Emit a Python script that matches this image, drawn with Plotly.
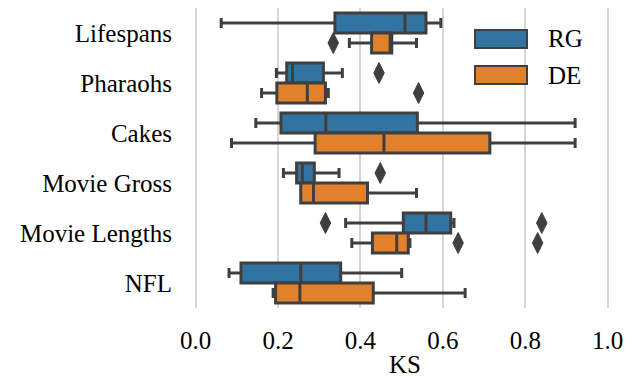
import plotly.graph_objects as go

categories = ["Lifespans", "Pharaohs", "Cakes", "Movie Gross", "Movie Lengths", "NFL"]
series = ["RG", "DE"]

rg_low = [0.062, 0.196, 0.146, 0.213, 0.364, 0.081]
rg_q1 = [0.338, 0.221, 0.207, 0.245, 0.504, 0.110]
rg_med = [0.508, 0.235, 0.316, 0.259, 0.559, 0.255]
rg_q3 = [0.559, 0.310, 0.538, 0.288, 0.619, 0.352]
rg_high = [0.595, 0.356, 0.921, 0.348, 0.627, 0.500]

de_low = [0.373, 0.160, 0.087, 0.257, 0.379, 0.188]
de_q1 = [0.427, 0.197, 0.290, 0.255, 0.429, 0.194]
de_med = [0.472, 0.271, 0.457, 0.286, 0.488, 0.253]
de_q3 = [0.476, 0.315, 0.714, 0.417, 0.516, 0.431]
de_high = [0.536, 0.322, 0.921, 0.536, 0.520, 0.654]

rg_out_cat = ["Pharaohs", "Movie Gross", "Movie Lengths", "Movie Lengths"]
rg_out_val = [0.445, 0.448, 0.315, 0.840]
de_out_cat = ["Lifespans", "Pharaohs", "Movie Lengths", "Movie Lengths"]
de_out_val = [0.334, 0.541, 0.637, 0.830]

x_ticks = [0.0, 0.2, 0.4, 0.6, 0.8, 1.0]
x_tick_labels = ["0.0", "0.2", "0.4", "0.6", "0.8", "1.0"]
x_title = "KS"

colors = {"RG": "#3274a1", "DE": "#e1812c"}
edge = "#3f3f3f"
FONT = "Liberation Serif"
FS = 25

idx = {c: i for i, c in enumerate(categories)}
offset = {"RG": -0.2, "DE": 0.2}

L, R, T, B = 180, 10, 8, 71
W, H = 635, 379
PW, PH = W - L - R, H - T - B

def px_x(p):
    return (p - L) / PW

def px_y(p):
    return 1 - (p - T) / PH

fig = go.Figure()
stats = {
    "RG": (rg_low, rg_q1, rg_med, rg_q3, rg_high),
    "DE": (de_low, de_q1, de_med, de_q3, de_high),
}
for s in series:
    lo, q1, med, q3, hi = stats[s]
    fig.add_trace(go.Box(
        name=s,
        orientation="h",
        y=[i + offset[s] for i in range(len(categories))],
        q1=q1, median=med, q3=q3, lowerfence=lo, upperfence=hi,
        width=0.4,
        whiskerwidth=0.5,
        fillcolor=colors[s],
        line=dict(color=edge, width=3),
        boxpoints=False,
        showlegend=False,
        hoverinfo="skip",
    ))

outs = {"RG": (rg_out_cat, rg_out_val), "DE": (de_out_cat, de_out_val)}
for s in series:
    cats, vals = outs[s]
    fig.add_trace(go.Scatter(
        x=vals,
        y=[idx[c] + offset[s] for c in cats],
        mode="markers",
        marker=dict(symbol="diamond-tall", size=15, color=edge,
                    line=dict(color=edge, width=1)),
        showlegend=False,
        hoverinfo="skip",
    ))

# manual legend
for k, s in enumerate(series):
    yc = 39 + 36 * k
    fig.add_shape(type="rect", xref="paper", yref="paper",
                  x0=px_x(475), x1=px_x(527),
                  y0=px_y(yc - 9), y1=px_y(yc + 9),
                  fillcolor=colors[s], line=dict(color=edge, width=2), layer="above")
    fig.add_annotation(text=s, xref="paper", yref="paper",
                       x=px_x(546), y=px_y(yc),
                       xanchor="left", yanchor="middle", showarrow=False,
                       font=dict(family=FONT, size=FS, color="black"))

fig.add_annotation(text=x_title, xref="paper", yref="paper",
                   x=px_x(405), y=px_y(364), xanchor="center", yanchor="middle",
                   showarrow=False, font=dict(family=FONT, size=FS, color="black"))

fig.update_layout(
    width=W, height=H,
    margin=dict(l=L, r=R, t=T, b=B),
    plot_bgcolor="white", paper_bgcolor="white",
    font=dict(family=FONT, size=FS, color="black"),
    boxmode="overlay",
    xaxis=dict(
        range=[-0.038, 1.042],
        tickvals=x_ticks, ticktext=x_tick_labels,
        showgrid=True, gridcolor="#d6d6d6", gridwidth=1.6,
        zeroline=False, showline=False, ticks="",
        ticklabelstandoff=15,
        automargin=False,
        tickfont=dict(family=FONT, size=FS, color="black"),
    ),
    yaxis=dict(
        range=[5.5, -0.5],
        tickvals=list(range(len(categories))), ticktext=categories,
        showgrid=False, zeroline=False, showline=False, ticks="",
        ticklabelstandoff=7,
        automargin=False,
        tickfont=dict(family=FONT, size=FS, color="black"),
    ),
)

fig.write_html(
    "out.html",
    config={"displayModeBar": False},
    post_script="document.body.style.margin='0';document.body.style.overflow='hidden';",
)
